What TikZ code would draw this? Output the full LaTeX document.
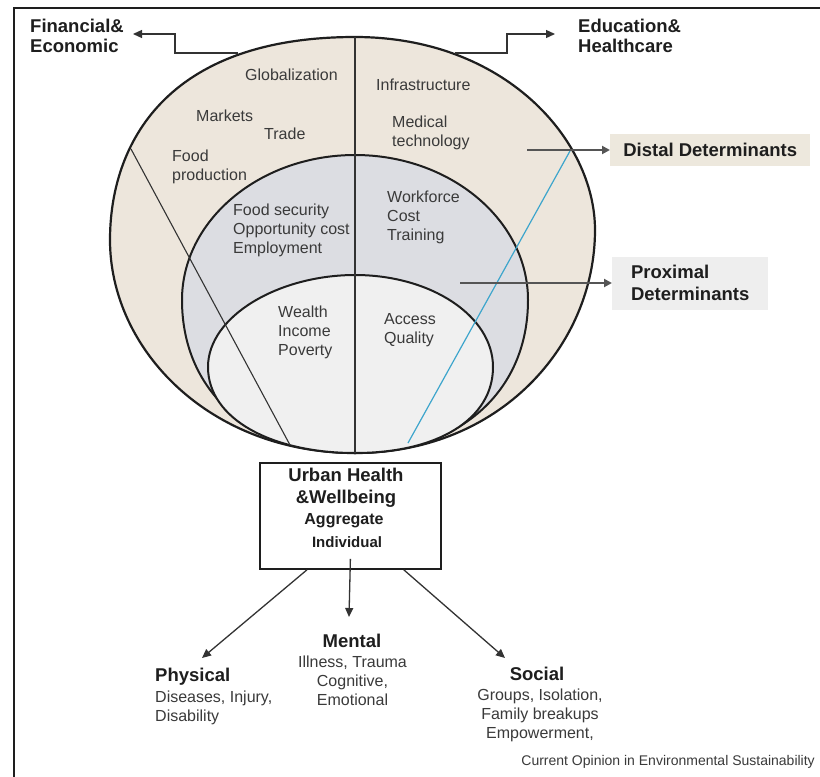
\documentclass[tikz,border=0pt]{standalone}
\usepackage{fontspec}
\setmainfont{Liberation Sans}
\usetikzlibrary{arrows.meta,calc}
\definecolor{outerfill}{HTML}{EDE6DC}
\definecolor{midfill}{HTML}{DCDDE2}
\definecolor{innerfill}{HTML}{F0F0F0}
\definecolor{txt}{HTML}{3A3A3A}
\definecolor{bl}{HTML}{1E1E1E}
\definecolor{ar}{HTML}{333333}
\definecolor{darr}{HTML}{555555}
\definecolor{distfill}{HTML}{EDE8DD}
\definecolor{proxfill}{HTML}{EEEEEE}
\definecolor{blueline}{HTML}{3DA5CC}
\begin{document}
\begin{tikzpicture}[x=1pt,y=-1pt,
  reg/.style={font=\fontsize{16}{19}\selectfont, text=txt, inner sep=0pt, align=left},
  regc/.style={font=\fontsize{16}{18.8}\selectfont, text=txt, inner sep=0pt, align=center},
  bld/.style={font=\fontsize{18.5}{19.5}\selectfont\bfseries, text=bl, inner sep=0pt, align=left},
  bldc/.style={font=\fontsize{18.5}{22}\selectfont\bfseries, text=bl, inner sep=0pt, align=center},
  arr/.style={draw=ar, line width=1.3pt, -{Triangle[length=9pt,width=8pt]}},
  darrow/.style={draw=darr, line width=2pt, -{Triangle[length=8pt,width=8pt]}},
  ring/.style={draw=bl, line width=2pt},
  divider/.style={draw=ar, line width=1.1pt},
]
\useasboundingbox (0,0) rectangle (820,777);
\fill[white] (0,0) rectangle (820,777);
\draw[line width=2pt, draw=bl] (14,777) -- (14,8) -- (820,8);

% rings
\path[ring, fill=outerfill, line width=2.2pt] (355,37) .. controls (505,37) and (595,140) .. (595,230)
  .. controls (595,345) and (500,453) .. (355,453)
  .. controls (210,453) and (110,350) .. (110,240)
  .. controls (110,145) and (165,37) .. (355,37) -- cycle;
\path[ring, fill=midfill] (355,155) .. controls (450,155) and (528,220) .. (528,300)
  .. controls (528,392) and (459,453) .. (355,453)
  .. controls (251,453) and (182,392) .. (182,300)
  .. controls (182,220) and (260,155) .. (355,155) -- cycle;
\path[ring, fill=innerfill] (355,275) .. controls (431,275) and (493,316) .. (493,367)
  .. controls (493,419) and (438,453) .. (355,453)
  .. controls (272,453) and (208,419) .. (208,367)
  .. controls (208,316) and (279,275) .. (355,275) -- cycle;

% dividers
\coordinate (vtop) at (355,37);
\coordinate (vbot) at (355,453);
\coordinate (ltop) at (131,149);
\coordinate (lbot) at (290,445);
\coordinate (btop) at (570,151);
\coordinate (bbot) at (408,443);
\draw[divider] (vtop) -- (vbot);
\draw[divider] (ltop) -- (lbot);
\draw[draw=blueline, line width=1.2pt] (btop) -- (bbot);

% ring texts
\node[reg, anchor=west] (glob) at (245,75) {Globalization};
\node[reg, anchor=west] (markets) at (196,116) {Markets};
\node[reg, anchor=west] (trade) at (264,134) {Trade};
\node[reg, anchor=west] (foodprod) at (172,167) {Food\\production};
\node[reg, anchor=west] (infra) at (376,85) {Infrastructure};
\node[reg, anchor=west] (medtech) at (392,133) {Medical\\technology};
\node[reg, anchor=west] (foodsec) at (233,230) {Food security\\Opportunity cost\\Employment};
\node[reg, anchor=west] (workforce) at (387,217) {Workforce\\Cost\\Training};
\node[reg, anchor=west] (wealth) at (278,332) {Wealth\\Income\\Poverty};
\node[reg, anchor=west] (access) at (384,330) {Access\\Quality};

% top labels
\node[bld, anchor=west] (fin) at (30,36) {Financial\&\\Economic};
\node[bld, anchor=west] (edu) at (578,36) {Education\&\\Healthcare};
\coordinate (finstart) at (238,53);
\coordinate (fintip) at (133,34);
\coordinate (edustart) at (455,53);
\coordinate (edutip) at (555,34);
\draw[arr] (finstart) -- ++(-63,0) |- (fintip);
\draw[arr] (edustart) -- ++(52,0) |- (edutip);

% determinant boxes
\node[bld, anchor=west, fill=distfill, minimum width=200pt, minimum height=32pt, inner xsep=12pt] (distal) at (610,150) {Distal Determinants};
\node[bld, anchor=west, fill=proxfill, minimum width=156pt, minimum height=53pt, inner xsep=16pt, font=\fontsize{18.5}{22}\selectfont\bfseries] (proximal) at (612,283) {Proximal\\Determinants};
\coordinate (diststart) at (527,150);
\coordinate (proxstart) at (460,283);
\draw[darrow] (diststart) -- (distal.west);
\draw[darrow] (proxstart) -- (proximal.west);

% urban health box
\node[draw=bl, line width=1.8pt, minimum width=181pt, minimum height=106pt, inner sep=0pt, anchor=north west] (urban) at (259,462) {};
\node[bldc] (urbantitle) at (346,488) {Urban Health\\\&Wellbeing};
\node[font=\fontsize{16}{19}\selectfont\bfseries, text=bl, inner sep=0pt] (aggregate) at (344,521) {Aggregate};
\node[font=\fontsize{15}{18}\selectfont\bfseries, text=bl, inner sep=0pt] (individual) at (347,542) {Individual};

% outcome labels
\node[bld, anchor=west] (physical) at (155,677) {Physical};
\node[reg, anchor=west] (physbody) at (155,708) {Diseases, Injury,\\Disability};
\node[bldc] (mental) at (352,641) {Mental};
\node[regc] (mentbody) at (352.5,681) {Illness, Trauma\\Cognitive,\\Emotional};
\node[bldc] (social) at (537,674) {Social};
\node[regc, font=\fontsize{16}{19}\selectfont] (socbody) at (540,715) {Groups, Isolation,\\Family breakups\\Empowerment,};
\node[font=\fontsize{14}{16}\selectfont, text=txt, inner sep=0pt, anchor=east] (caption) at (815,762) {Current Opinion in Environmental Sustainability};

\coordinate (physpt) at (202,658);
\coordinate (mentpt) at (349,617);
\coordinate (socpt) at (505,658);
\draw[arr] ([xshift=48pt]urban.south west) -- (physpt);
\draw[arr] ([yshift=11pt]urban.south) -- (mentpt);
\draw[arr] ([xshift=-38pt]urban.south east) -- (socpt);
\end{tikzpicture}
\end{document}
